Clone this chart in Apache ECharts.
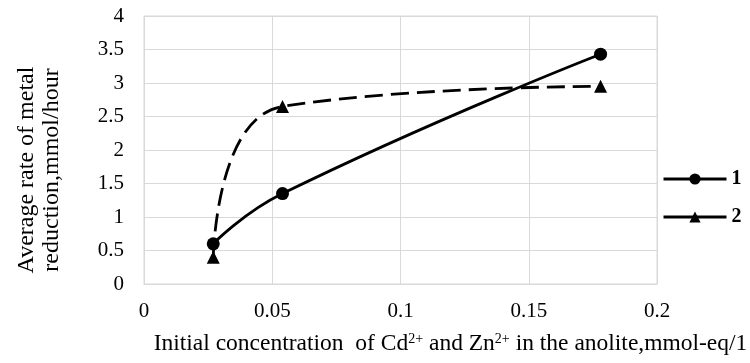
<!DOCTYPE html>
<html>
<head>
<meta charset="utf-8">
<script src="https://cdn.jsdelivr.net/npm/echarts@6/dist/echarts.min.js"></script>
<style>html,body{margin:0;padding:0;background:#fff}#c{width:750px;height:363px}</style>
</head>
<body>
<div id="c"></div>
<script>
var concentrations = [0.027, 0.054, 0.178];
var series1 = [0.6, 1.35, 3.43];
var series2 = [0.4, 2.65, 2.95];
var seriesNames = ['1', '2'];
var xTicks = [0, 0.05, 0.1, 0.15, 0.2];
var yTicks = [0, 0.5, 1, 1.5, 2, 2.5, 3, 3.5, 4];

function pairs(xs, ys) { return xs.map(function (x, i) { return [x, ys[i]]; }); }

var font = 'Liberation Serif';
var chart = echarts.init(document.getElementById('c'));
chart.setOption({
  animation: false,
  grid: { left: 144, right: 93, top: 16, bottom: 79, show: true, borderColor: '#d9d9d9', borderWidth: 1,
          containLabel: false, outerBoundsMode: 'none' },
  xAxis: {
    type: 'value', min: xTicks[0], max: xTicks[xTicks.length - 1], interval: 0.05,
    axisLine: { show: true, lineStyle: { color: '#d9d9d9' } },
    axisTick: { show: false },
    splitLine: { show: true, lineStyle: { color: '#d9d9d9', width: 1 } },
    axisLabel: { fontFamily: font, fontSize: 21, color: '#000', margin: 17,
      formatter: function (v) { return String(+v.toFixed(2)); } },
    name: '{n|Initial concentration  of Cd}{s|2+}{n| and Zn}{s|2+}{n| in the anolite,mmol-eq/1}',
    nameLocation: 'middle', nameGap: 48,
    nameTextStyle: { padding: [0, 0, 0, 100],
      rich: { n: { fontFamily: font, fontSize: 23.5, color: '#000' },
              s: { fontFamily: font, fontSize: 14, color: '#000', verticalAlign: 'top', padding: [0, 0, 10, 0] } } }
  },
  yAxis: {
    type: 'value', min: yTicks[0], max: yTicks[yTicks.length - 1], interval: 0.5,
    axisLine: { show: true, lineStyle: { color: '#d9d9d9' } },
    axisTick: { show: false },
    splitLine: { show: true, lineStyle: { color: '#d9d9d9', width: 1 } },
    axisLabel: { fontFamily: font, fontSize: 21, color: '#000', margin: 20 },
    name: 'Average rate of metal\nreduction,mmol/hour',
    nameLocation: 'middle', nameGap: 80, nameRotate: 90,
    nameTextStyle: { fontFamily: font, fontSize: 24, color: '#000', lineHeight: 25, padding: [0, 40, 0, 0] }
  },
  legend: {
    orient: 'vertical', left: 657, top: 164, itemWidth: 63, itemHeight: 14, itemGap: 18,
    textStyle: { fontFamily: font, fontSize: 20, fontWeight: 'bold', color: '#000', lineHeight: 20 },
    lineStyle: { type: 'solid', width: 3 },
    data: seriesNames
  },
  series: [
    { name: seriesNames[0], type: 'line', smooth: 0.5, data: pairs(concentrations, series1),
      symbol: 'circle', symbolSize: 13,
      lineStyle: { color: '#000', width: 2.8 }, itemStyle: { color: '#000' } },
    { name: seriesNames[1], type: 'line', smooth: 0.5, data: pairs(concentrations, series2),
      symbol: 'triangle', symbolSize: 13,
      lineStyle: { color: '#000', width: 2.8, type: [18, 8] }, itemStyle: { color: '#000' } }
  ]
});
</script>
</body>
</html>
